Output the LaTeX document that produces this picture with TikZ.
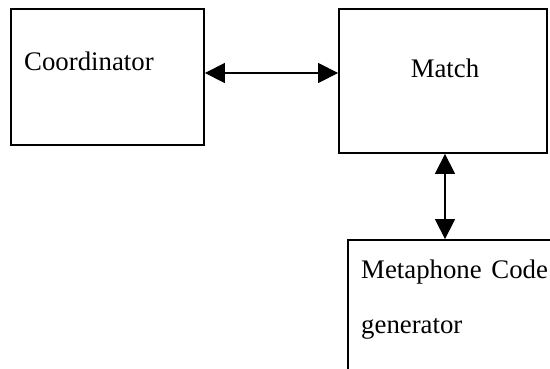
\documentclass[tikz,border=0pt]{standalone}
\usepackage{fontspec}
\setmainfont{Liberation Serif}
\usetikzlibrary{arrows.meta}
\begin{document}
\begin{tikzpicture}[x=1pt,y=-1pt,
  box/.style={draw, line width=1.8pt, rectangle, inner sep=0pt},
  lbl/.style={inner sep=0pt, font=\fontsize{26.8}{30}\selectfont},
  link/.style={line width=1.3pt, {Triangle[length=20pt,width=20pt]}-{Triangle[length=20pt,width=20pt]}}]
\useasboundingbox (0,0) rectangle (550,368);
\clip (0,0) rectangle (550,368);
\fill[white] (0,0) rectangle (550,368);
\node[box, minimum width=193pt, minimum height=136pt] (coord) at (107.5,77) {};
\node[box, minimum width=208pt, minimum height=144pt] (match) at (443,81) {};
\node[box, minimum width=240pt, minimum height=160pt] (meta) at (468,320) {};
\node[lbl, anchor=base west] (tcoord) at (24,70) {Coordinator};
\node[lbl, anchor=base] (tmatch) at (445,77.5) {Match};
\node[lbl, anchor=base west] (tmeta1) at (361,278) {Metaphone\hspace{3pt} Code};
\node[lbl, anchor=base west] (tmeta2) at (361,333) {generator};
\coordinate (ay) at (0,73);
\draw[link] (coord.east |- ay) -- (match.west |- ay);
\coordinate (ax) at (445,0);
\draw[link] (ax |- match.south) -- (ax |- meta.north);
\end{tikzpicture}
\end{document}
